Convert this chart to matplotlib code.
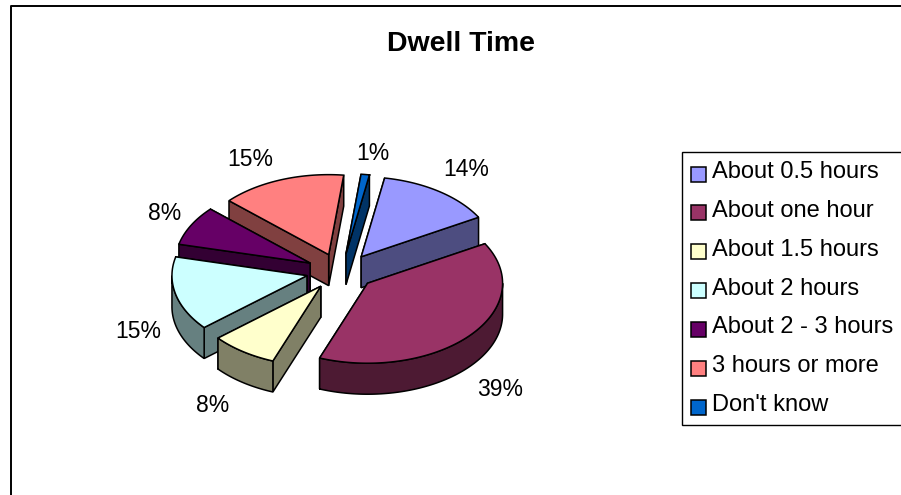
import numpy as np
import matplotlib
matplotlib.use("Agg")
import matplotlib.pyplot as plt
from matplotlib.patches import Polygon, Rectangle

plt.rcParams['font.family'] = ['Liberation Sans', 'DejaVu Sans']

title = "Dwell Time"
categories = ["About 0.5 hours", "About one hour", "About 1.5 hours", "About 2 hours",
              "About 2 - 3 hours", "3 hours or more", "Don't know"]
values = [14, 39, 8, 15, 8, 15, 1]
top_colors = ["#9999FF", "#993366", "#FFFFCC", "#CCFFFF", "#660066", "#FF8080", "#0066CC"]
side_colors = ["#4D4D80", "#4D1A33", "#808066", "#668080", "#330033", "#804040", "#003366"]

# pie geometry, in pixels
cx, cy = 341, 271.5
rx, ry = 135, 80
ex, ey = 35, 18
depth = 31
start = 10

# where the percent labels sit, same order as values
label_pos = [(466, 170), (500, 390), (213, 405), (138, 331), (165, 213), (250, 160), (373, 153)]

fig = plt.figure(figsize=(9.01, 4.95), dpi=100)
ax = fig.add_axes([0, 0, 1, 1])
ax.set_xlim(0, 901)
ax.set_ylim(495, 0)
ax.axis("off")

# frame, only top and left show up
ax.plot([10.5, 10.5, 901], [495, 5.5, 5.5], color="black", lw=1.4, solid_capstyle="butt")


def rim(apex, a, b):
    t = np.radians(np.arange(a, b + 0.5, 1.0))
    if len(t) == 0 or t[-1] != np.radians(b):
        t = np.append(t, np.radians(b))
    return np.column_stack([apex[0] + rx * np.sin(t), apex[1] - ry * np.cos(t)])


def draw_wedge(a, b, top, side, z):
    mid = np.radians((a + b) / 2)
    apex = np.array([cx + ex * np.sin(mid), cy - ey * np.cos(mid)])
    arc = rim(apex, a, b)
    drop = np.array([0, depth])
    faces = [
        np.array([apex, arc[0], arc[0] + drop, apex + drop]),
        np.array([apex, arc[-1], arc[-1] + drop, apex + drop]),
    ]
    # outer wall, the part that faces the viewer
    for lo, hi in [(90, 270), (450, 630)]:
        a2, b2 = max(a, lo), min(b, hi)
        if a2 < b2:
            seg = rim(apex, a2, b2)
            faces.append(np.vstack([seg, (seg + drop)[::-1]]))
    faces.sort(key=lambda f: f[:, 1].mean())
    for f in faces:
        ax.add_patch(Polygon(f, closed=True, fc=side, ec="black", lw=1.1, zorder=z))
    ax.add_patch(Polygon(np.vstack([apex, arc]), closed=True, fc=top, ec="black", lw=1.1, zorder=z))


angles = start + np.cumsum([0] + values) * 3.6
wedges = list(zip(angles[:-1], angles[1:], top_colors, side_colors))
wedges.sort(key=lambda w: -np.cos(np.radians((w[0] + w[1]) / 2)))
for z, (a, b, top, side) in enumerate(wedges):
    draw_wedge(a, b, top, side, z + 2)

for v, (x, y) in zip(values, label_pos):
    ax.text(x, y, f"{v}%", ha="center", va="center", fontsize=16.5, color="black", zorder=20)

ax.text(461, 44, title, ha="center", va="center", fontsize=20.5, fontweight="bold")

# legend box runs off the right side of the picture
ax.add_patch(Rectangle((682, 152), 240, 273, fc="white", ec="black", lw=1, zorder=1))
for i, name in enumerate(categories):
    y = 174 + i * 38.85
    ax.add_patch(Rectangle((691, y - 7.5), 15, 15, fc=top_colors[i], ec="black", lw=1.1, zorder=3))
    ax.text(712, y - 2, name, ha="left", va="center", fontsize=17, color="black", zorder=3)

fig.savefig("out.png", dpi=100)
